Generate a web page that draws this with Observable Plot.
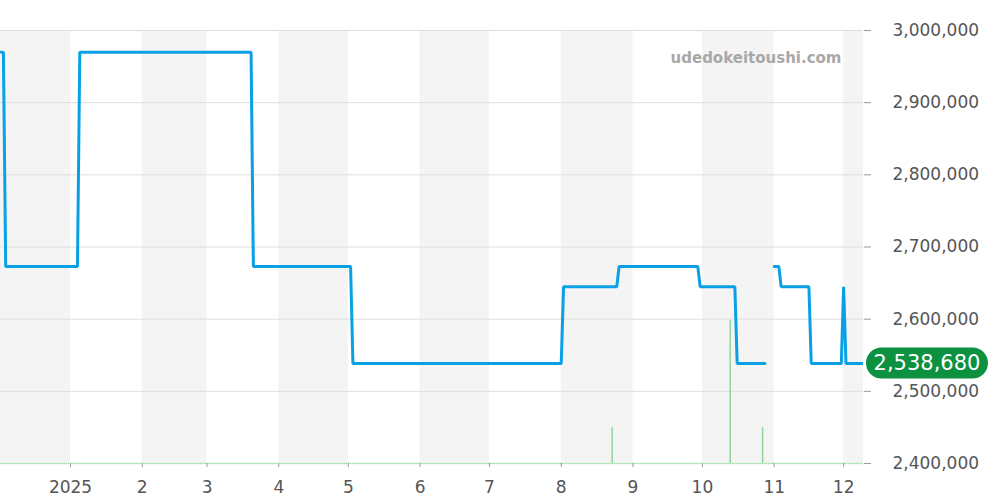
<!DOCTYPE html>
<html>
<head>
<meta charset="utf-8">
<script src="https://cdn.jsdelivr.net/npm/d3@7"></script>
<script src="https://cdn.jsdelivr.net/npm/@observablehq/plot@0.6"></script>
<style>
  html, body { margin: 0; padding: 0; background: #fff; }
  #chart { width: 1000px; height: 500px; }
</style>
</head>
<body>
<div id="chart"></div>
<script>
// ---- data ----
const priceDates = ["2024-12-02","2024-12-03","2024-12-04","2025-01-04","2025-01-05","2025-03-20","2025-03-21",
  "2025-05-02","2025-05-03","2025-08-01","2025-08-02","2025-08-25","2025-08-26","2025-09-29",
  "2025-09-30","2025-10-15","2025-10-16","2025-10-28","2025-10-29","2025-11-01","2025-11-03","2025-11-04",
  "2025-11-16","2025-11-17","2025-11-30","2025-12-01","2025-12-02","2025-12-09T14:00"];
const priceValues = [2970000,2970000,2673000,2673000,2970000,2970000,2673000,
  2673000,2538680,2538680,2645000,2645000,2673000,2673000,
  2645000,2645000,2538680,2538680,null,2673000,2673000,2645000,
  2645000,2538680,2538680,2645000,2538680,2538680];
const volumeDates = ["2025-08-23","2025-10-13","2025-10-27"];
const volumeCounts = [1, 4, 1];
const yTicks = [2400000,2500000,2600000,2700000,2800000,2900000,3000000];
const monthStarts = ["2024-12-01","2025-01-01","2025-02-01","2025-03-01","2025-04-01","2025-05-01",
  "2025-06-01","2025-07-01","2025-08-01","2025-09-01","2025-10-01","2025-11-01","2025-12-01","2026-01-01"];
const xTickLabels = ["2025","2","3","4","5","6","7","8","9","10","11","12"];
const latestPrice = 2538680;
const watermark = "udedokeitoushi.com";

// ---- build ----
const parse = s => new Date(s.length > 10 ? s + "Z" : s + "T00:00:00Z");
const price = priceDates.map((d, i) => ({date: parse(d), value: priceValues[i]}));
const volume = volumeDates.map((d, i) => ({date: parse(d), count: volumeCounts[i]}));
const months = monthStarts.map(parse);
const bands = [];
for (let i = 0; i < months.length - 1; i += 2) bands.push({start: months[i], end: months[i + 1]});
const xTicks = months.slice(1, 13);
const base = 2400000, volUnit = 49500;

const plot = Plot.plot({
  width: 1000,
  height: 500,
  marginLeft: 0,
  marginRight: 137,
  marginTop: 30,
  marginBottom: 37,
  style: {fontFamily: "DejaVu Sans", fontSize: "17px", color: "#555", background: "#fff"},
  x: {type: "utc", domain: [new Date("2024-12-01T18:00:00Z"), new Date("2025-12-09T14:00:00Z")]},
  y: {domain: [2400000, 3000000], label: null},
  marks: [
    Plot.rectX(bands, {x1: "start", x2: "end", fill: "#f4f4f4", clip: true}),
    Plot.gridY(yTicks, {stroke: "#dedede", strokeOpacity: 1}),
    Plot.ruleY([base], {stroke: "#a6dcae", strokeDasharray: "1,1", strokeWidth: 1.5}),
    Plot.ruleX(volume, {x: "date", y1: base, y2: d => base + d.count * volUnit, stroke: "#8fd69b", strokeWidth: 1.5}),
    Plot.line(price, {x: "date", y: "value", stroke: "#0aa0e6", strokeWidth: 3, strokeLinejoin: "miter", clip: true}),
    Plot.axisY({anchor: "right", ticks: yTicks, tickSize: 7, tickPadding: 22, tickFormat: d3.format(","),
      fontSize: 17, stroke: "#999", fill: "#555", label: null}),
    Plot.axisX({ticks: xTicks, tickSize: 4, tickPadding: 13, fontSize: 17, stroke: "#999", fill: "#555",
      tickFormat: (d, i) => xTickLabels[i], label: null}),
    Plot.text([watermark], {frameAnchor: "top-right", dx: -22, dy: 22, text: d => d,
      fill: "#a8a8a8", fontWeight: "bold", fontSize: 15, textAnchor: "end"})
  ]
});

document.getElementById("chart").appendChild(plot);

// latest price badge, positioned from the y scale
const ys = plot.scale("y").apply(latestPrice);
const svg = d3.select(plot);
const bx = 866, bw = 122, bh = 31;
svg.append("rect").attr("x", bx).attr("y", ys - bh / 2).attr("width", bw).attr("height", bh)
  .attr("rx", 15.5).attr("fill", "#0b9140");
svg.append("text").attr("x", bx + bw / 2).attr("y", ys).attr("dy", "0.36em")
  .attr("text-anchor", "middle").attr("fill", "#fff").attr("font-size", 21)
  .attr("font-family", "DejaVu Sans").text(d3.format(",")(latestPrice));
</script>
</body>
</html>
